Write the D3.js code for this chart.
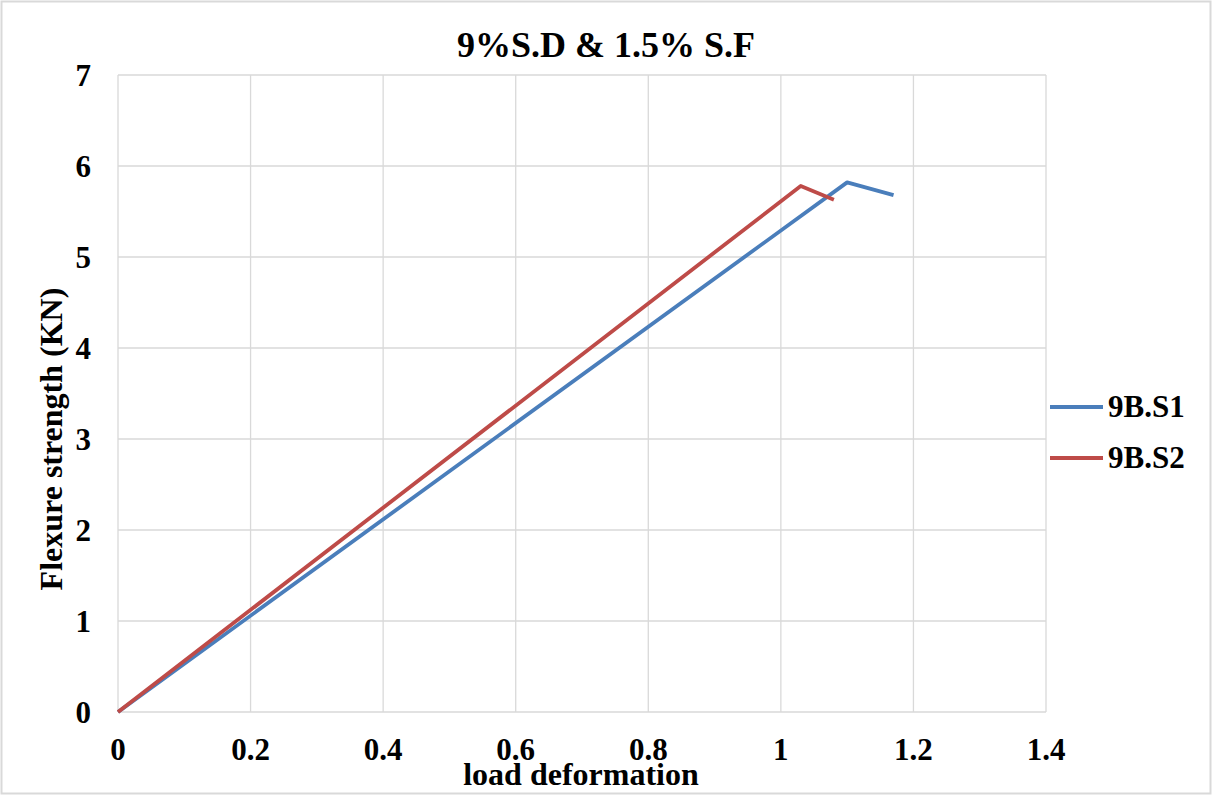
<!DOCTYPE html>
<html>
<head>
<meta charset="utf-8">
<script src="https://cdn.jsdelivr.net/npm/d3@7"></script>
<style>
  body { margin: 0; background: #fff; }
  text { font-family: "Liberation Serif", "Times New Roman", serif; font-weight: bold; fill: #000; }
</style>
</head>
<body>
<div id="chart"></div>
<script>
// values
const seriesNames = ["9B.S1", "9B.S2"];
const s1x = [0, 1.10, 1.17];
const s1y = [0, 5.82, 5.68];
const s2x = [0, 1.03, 1.08];
const s2y = [0, 5.78, 5.63];
const xTicks = [0, 0.2, 0.4, 0.6, 0.8, 1, 1.2, 1.4];
const yTicks = [0, 1, 2, 3, 4, 5, 6, 7];
const colors = ["#4a7ebb", "#be4b48"];

const W = 1213, H = 796;
const svg = d3.select("#chart").append("svg")
  .attr("width", W).attr("height", H);

// outer chart border
svg.append("rect")
  .attr("x", 1.5).attr("y", 1.5).attr("width", W - 4).attr("height", H - 4)
  .attr("fill", "#fff").attr("stroke", "#d9d9d9").attr("stroke-width", 2);

let x = d3.scaleLinear().domain([0, 1.4]).range([118, 1046]);
let y = d3.scaleLinear().domain([0, 7]).range([712, 75]);

// grid
svg.append("g").selectAll("line").data(xTicks).join("line")
  .attr("x1", d => x(d)).attr("x2", d => x(d))
  .attr("y1", y(0)).attr("y2", y(7))
  .attr("stroke", "#d9d9d9").attr("stroke-width", 1.3);
svg.append("g").selectAll("line").data(yTicks).join("line")
  .attr("x1", x(0)).attr("x2", x(1.4))
  .attr("y1", d => y(d)).attr("y2", d => y(d))
  .attr("stroke", "#d9d9d9").attr("stroke-width", 1.3);

// tick labels
svg.append("g").selectAll("text").data(xTicks).join("text")
  .attr("x", d => x(d)).attr("y", 760)
  .attr("text-anchor", "middle").attr("font-size", 31)
  .text(d => d);
svg.append("g").selectAll("text").data(yTicks).join("text")
  .attr("x", 91).attr("y", d => y(d) + 10.5)
  .attr("text-anchor", "end").attr("font-size", 31)
  .text(d => d);

// lines
var line = d3.line().x(d => x(d[0])).y(d => y(d[1]));
var data = [d3.zip(s1x, s1y), d3.zip(s2x, s2y)];
svg.append("g").selectAll("path").data(data).join("path")
  .attr("d", line)
  .attr("fill", "none")
  .attr("stroke", (d, i) => colors[i])
  .attr("stroke-width", 3.8)
  .attr("stroke-linejoin", "round");

// titles
svg.append("text").attr("x", 606).attr("y", 57)
  .attr("text-anchor", "middle").attr("font-size", 36)
  .text("9%S.D & 1.5% S.F");
svg.append("text").attr("x", 581).attr("y", 785)
  .attr("text-anchor", "middle").attr("font-size", 32)
  .text("load deformation");
svg.append("text")
  .attr("transform", "translate(62,439) rotate(-90)")
  .attr("text-anchor", "middle").attr("font-size", 32)
  .text("Flexure strength (KN)");

// legend
let lg = svg.append("g").selectAll("g").data(seriesNames).join("g")
  .attr("transform", (d, i) => `translate(1050,${407 + i * 51})`);
lg.append("line").attr("x1", 0).attr("x2", 53)
  .attr("stroke", (d, i) => colors[i]).attr("stroke-width", 3.8);
lg.append("text").attr("x", 58).attr("y", 10).attr("font-size", 31)
  .text(d => d);
</script>
</body>
</html>
